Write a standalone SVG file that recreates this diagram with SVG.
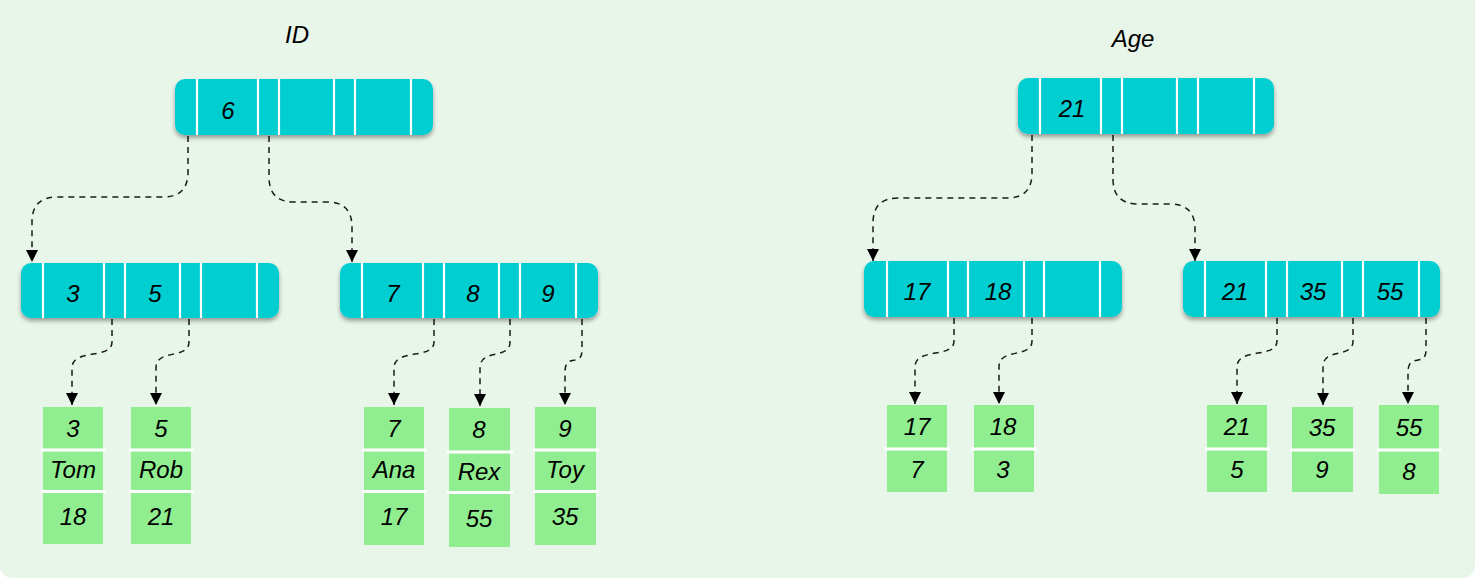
<svg xmlns="http://www.w3.org/2000/svg" width="1479" height="580" viewBox="0 0 1479 580">
<defs>
<style>
.bg{fill:#e8f5e9}
.node{fill:#00ced1}
.div{stroke:#ffffff;stroke-width:2.2}
.leaf{fill:#90ee90}
.sep{stroke:#ffffff;stroke-width:3}
.t{font-family:"Liberation Sans",Arial,sans-serif;font-style:italic;font-size:24px;fill:#000;text-anchor:middle}
.title{font-family:"Liberation Sans",Arial,sans-serif;font-style:italic;font-size:24px;fill:#000;text-anchor:middle}
.conn path{fill:none;stroke:#1a1a1a;stroke-width:1.5;stroke-dasharray:6 5}
</style>
<filter id="sh" x="-5%" y="-20%" width="110%" height="150%">
<feDropShadow dx="0" dy="3" stdDeviation="2" flood-color="#000" flood-opacity="0.35"/>
</filter>
<marker id="arr" viewBox="0 0 12 12" refX="12" refY="6" markerWidth="12" markerHeight="12" markerUnits="userSpaceOnUse" orient="auto">
<path d="M0,0 L12,6 L0,12 z" fill="#000" stroke="none"/>
</marker>
</defs>
<rect x="0" y="0" width="1479" height="580" fill="#ffffff"/>
<rect class="bg" x="0" y="-12" width="1475" height="590" rx="12"/>

<text class="title" x="297" y="43">ID</text>
<text class="title" x="1133" y="47">Age</text>

<g id="conn" class="conn">
<path d="M188,136 V172 Q188,197 163,197 H57 Q32,197 32,222 V262" marker-end="url(#arr)"/>
<path d="M269,136 V177 Q269,202 294,202 H327 Q352,202 352,227 V262" marker-end="url(#arr)"/>
<path d="M112,319 V342 C112,360 72,348 72,368 V405" marker-end="url(#arr)"/>
<path d="M189,319 V342 C189,360 156,348 156,368 V405" marker-end="url(#arr)"/>
<path d="M434,319 V342 C434,360 394,348 394,368 V405" marker-end="url(#arr)"/>
<path d="M510,319 V342 C510,360 480,348 480,368 V406" marker-end="url(#arr)"/>
<path d="M582,319 V350 C582,368 565,352 565,372 V405" marker-end="url(#arr)"/>
<path d="M1032,135 V173 Q1032,198 1007,198 H898 Q873,198 873,223 V261" marker-end="url(#arr)"/>
<path d="M1113,135 V179 Q1113,204 1138,204 H1170 Q1195,204 1195,229 V261" marker-end="url(#arr)"/>
<path d="M954,318 V341 C954,359 915,347 915,367 V404" marker-end="url(#arr)"/>
<path d="M1032,318 V341 C1032,359 999,347 999,367 V404" marker-end="url(#arr)"/>
<path d="M1277,318 V341 C1277,359 1237,347 1237,367 V404" marker-end="url(#arr)"/>
<path d="M1353,318 V341 C1353,359 1323,347 1323,367 V405" marker-end="url(#arr)"/>
<path d="M1426,318 V350 C1426,368 1408,352 1408,372 V404" marker-end="url(#arr)"/>
</g>

<g id="id-root">
<rect class="node" x="175" y="79" width="258" height="56" rx="10" filter="url(#sh)"/>
<path class="div" d="M197,79V135M258,79V135M279,79V135M334,79V135M355,79V135M411,79V135"/>
<text class="t" x="228" y="119">6</text>
</g>

<g id="id-left">
<rect class="node" x="21" y="263" width="258" height="55" rx="10" filter="url(#sh)"/>
<path class="div" d="M43,263V318M104,263V318M125,263V318M180,263V318M201,263V318M257,263V318"/>
<text class="t" x="73" y="302">3</text>
<text class="t" x="155" y="302">5</text>
</g>

<g id="id-right">
<rect class="node" x="340" y="263" width="258" height="55" rx="10" filter="url(#sh)"/>
<path class="div" d="M362,263V318M423,263V318M444,263V318M499,263V318M520,263V318M576,263V318"/>
<text class="t" x="393" y="302">7</text>
<text class="t" x="473" y="302">8</text>
<text class="t" x="548" y="302">9</text>
</g>

<g id="leaf-3">
<rect class="leaf" x="43" y="407" width="60" height="137"/>
<path class="sep" d="M41,450H106M41,491.5H106"/>
<text class="t" x="73" y="437">3</text>
<text class="t" x="73" y="478">Tom</text>
<text class="t" x="73" y="525">18</text>
</g>
<g id="leaf-5">
<rect class="leaf" x="131" y="407" width="60" height="137"/>
<path class="sep" d="M129,450H194M129,491.5H194"/>
<text class="t" x="161" y="437">5</text>
<text class="t" x="161" y="478">Rob</text>
<text class="t" x="161" y="525">21</text>
</g>
<g id="leaf-7">
<rect class="leaf" x="364" y="407" width="60" height="138"/>
<path class="sep" d="M362,450H427M362,491.5H427"/>
<text class="t" x="394" y="437">7</text>
<text class="t" x="394" y="478">Ana</text>
<text class="t" x="394" y="525">17</text>
</g>
<g id="leaf-8">
<rect class="leaf" x="449" y="408" width="61" height="139"/>
<path class="sep" d="M447,452H513M447,492.5H513"/>
<text class="t" x="479" y="438">8</text>
<text class="t" x="479" y="480">Rex</text>
<text class="t" x="479" y="527">55</text>
</g>
<g id="leaf-9">
<rect class="leaf" x="535" y="407" width="61" height="138"/>
<path class="sep" d="M533,450H599M533,491.5H599"/>
<text class="t" x="565" y="437">9</text>
<text class="t" x="565" y="478">Toy</text>
<text class="t" x="565" y="525">35</text>
</g>

<g id="age-root">
<rect class="node" x="1018" y="78" width="256" height="56" rx="10" filter="url(#sh)"/>
<path class="div" d="M1040,78V134M1101,78V134M1122,78V134M1177,78V134M1198,78V134M1254,78V134"/>
<text class="t" x="1072" y="117">21</text>
</g>

<g id="age-left">
<rect class="node" x="864" y="261" width="258" height="56" rx="10" filter="url(#sh)"/>
<path class="div" d="M887,261V317M948,261V317M968,261V317M1024,261V317M1044,261V317M1100,261V317"/>
<text class="t" x="917" y="300">17</text>
<text class="t" x="998" y="300">18</text>
</g>

<g id="age-right">
<rect class="node" x="1183" y="261" width="257" height="56" rx="10" filter="url(#sh)"/>
<path class="div" d="M1205,261V317M1266,261V317M1287,261V317M1342,261V317M1363,261V317M1419,261V317"/>
<text class="t" x="1235" y="300">21</text>
<text class="t" x="1313" y="300">35</text>
<text class="t" x="1390" y="300">55</text>
</g>

<g id="leaf-17">
<rect class="leaf" x="887" y="405" width="60" height="87"/>
<path class="sep" d="M884,449H950"/>
<text class="t" x="917" y="435">17</text>
<text class="t" x="917" y="478">7</text>
</g>
<g id="leaf-18">
<rect class="leaf" x="974" y="405" width="60" height="87"/>
<path class="sep" d="M971,449H1037"/>
<text class="t" x="1003" y="435">18</text>
<text class="t" x="1003" y="478">3</text>
</g>
<g id="leaf-21">
<rect class="leaf" x="1207" y="405" width="60" height="87"/>
<path class="sep" d="M1205,449H1270"/>
<text class="t" x="1237" y="435">21</text>
<text class="t" x="1237" y="478">5</text>
</g>
<g id="leaf-35">
<rect class="leaf" x="1292" y="407" width="61" height="85"/>
<path class="sep" d="M1290,450H1355"/>
<text class="t" x="1322" y="436">35</text>
<text class="t" x="1322" y="478">9</text>
</g>
<g id="leaf-55">
<rect class="leaf" x="1379" y="405" width="60" height="89"/>
<path class="sep" d="M1377,450H1441"/>
<text class="t" x="1409" y="436">55</text>
<text class="t" x="1409" y="480">8</text>
</g>
</svg>
